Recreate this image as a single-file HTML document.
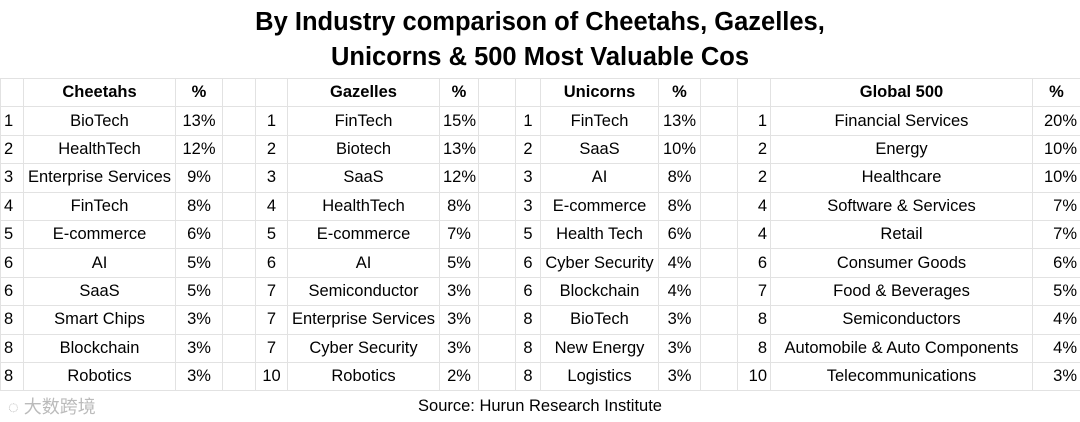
<!DOCTYPE html>
<html><head><meta charset="utf-8"><style>
body{margin:0;width:1080px;height:422px;background:#fff;overflow:hidden;font-family:"Liberation Sans","Noto Sans CJK SC",sans-serif;position:relative}
#title{position:absolute;left:0;top:5px;width:1080px;text-align:center;font-weight:bold;font-size:25.5px;line-height:35px;color:#000}
table{position:absolute;left:0;top:78px;border-collapse:collapse;table-layout:fixed;width:1080px}
td{border:1px solid #e2e2e2;height:27.4px;padding:0 3px;font-size:16.5px;text-align:center;white-space:nowrap;overflow:hidden;color:#000}
td.l{text-align:left}td.r{text-align:right}
tr.h td{font-weight:bold}
#src{position:absolute;left:0;top:397px;width:1080px;text-align:center;font-size:16.5px}
#wm{position:absolute;left:8px;top:393px;font-size:18px;color:#bbb}
</style></head><body>
<div id="title">By Industry comparison of Cheetahs, Gazelles,<br>Unicorns &amp; 500 Most Valuable Cos</div>
<table>
<colgroup><col style="width:23px"><col style="width:152px"><col style="width:47px"><col style="width:33px"><col style="width:32px"><col style="width:152px"><col style="width:39px"><col style="width:37px"><col style="width:25px"><col style="width:118px"><col style="width:42px"><col style="width:37px"><col style="width:33px"><col style="width:262px"><col style="width:48px"></colgroup>
<tbody id="tb"></tbody></table>
<div id="src">Source: Hurun Research Institute</div>
<div id="wm">◌ 大数跨境</div>
<script>
const cheetahs=[["1","BioTech","13%"],["2","HealthTech","12%"],["3","Enterprise Services","9%"],["4","FinTech","8%"],["5","E-commerce","6%"],["6","AI","5%"],["6","SaaS","5%"],["8","Smart Chips","3%"],["8","Blockchain","3%"],["8","Robotics","3%"]];
const gazelles=[["1","FinTech","15%"],["2","Biotech","13%"],["3","SaaS","12%"],["4","HealthTech","8%"],["5","E-commerce","7%"],["6","AI","5%"],["7","Semiconductor","3%"],["7","Enterprise Services","3%"],["7","Cyber Security","3%"],["10","Robotics","2%"]];
const unicorns=[["1","FinTech","13%"],["2","SaaS","10%"],["3","AI","8%"],["3","E-commerce","8%"],["5","Health Tech","6%"],["6","Cyber Security","4%"],["6","Blockchain","4%"],["8","BioTech","3%"],["8","New Energy","3%"],["8","Logistics","3%"]];
const global500=[["1","Financial Services","20%"],["2","Energy","10%"],["2","Healthcare","10%"],["4","Software & Services","7%"],["4","Retail","7%"],["6","Consumer Goods","6%"],["7","Food & Beverages","5%"],["8","Semiconductors","4%"],["8","Automobile & Auto Components","4%"],["10","Telecommunications","3%"]];
const tb=document.getElementById('tb');
function cell(tr,t,cls){const td=document.createElement('td');td.textContent=t;if(cls)td.className=cls;


tr.appendChild(td);}
let h=document.createElement('tr');h.className='h';


["","Cheetahs","%","","","Gazelles","%","","","Unicorns","%","","","Global 500","%"].forEach(t=>cell(h,t));
tb.appendChild(h);
for(let i=0;i<10;i++){const tr=document.createElement('tr');


const g=[cheetahs,gazelles,unicorns,global500];
g.forEach((s,k)=>{cell(tr,s[i][0],k==0?'l':(k==3?'r':''));cell(tr,s[i][1]);cell(tr,s[i][2],k==3?'r':'');if(k<3)cell(tr,'');});
tb.appendChild(tr);}
</script>
</body></html>
